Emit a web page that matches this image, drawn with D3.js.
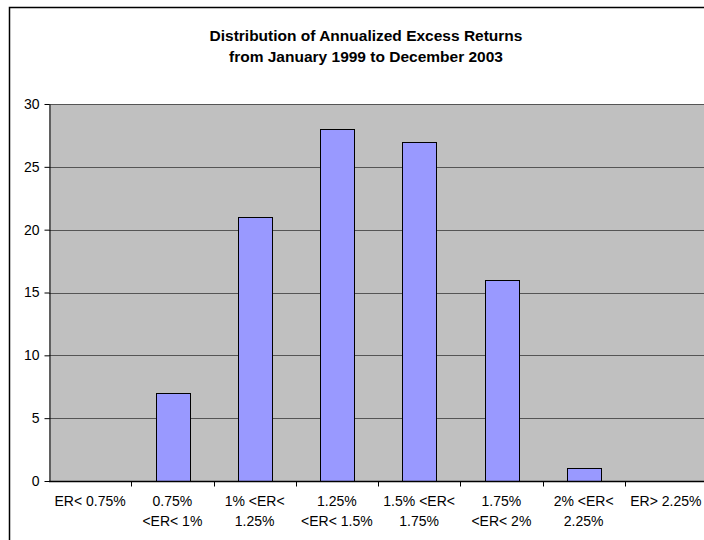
<!DOCTYPE html>
<html lang="en">
<head>
    <meta charset="UTF-8">
    <title>Distribution of Annualized Excess Returns</title>
    <script type="application/javascript" src="https://cdn.jsdelivr.net/npm/d3@7/dist/d3.min.js"></script>
    <style type="text/css">
        body { margin: 0; background: #fff; }
        svg { display: block; font-family: Arial, "Liberation Sans", sans-serif; }
        .grid line { stroke: #555; stroke-width: 1; }
        .bar { fill: #9999ff; stroke: #000; stroke-width: 1; }
    </style>
</head>
<body>
<svg width="704" height="540"></svg>
<script type="application/javascript">
    // bucket labels, two lines each
    var CATEGORIES = [
        ['ER< 0.75%'],
        ['0.75%', '<ER< 1%'],
        ['1% <ER<', '1.25%'],
        ['1.25%', '<ER< 1.5%'],
        ['1.5% <ER<', '1.75%'],
        ['1.75%', '<ER< 2%'],
        ['2% <ER<', '2.25%'],
        ['ER> 2.25%']
    ];
    var COUNTS = [0, 7, 21, 28, 27, 16, 1, 0];
    var Y_TICKS = [0, 5, 10, 15, 20, 25, 30];
    var TITLE = ['Distribution of Annualized Excess Returns', 'from January 1999 to December 2003'];

    var svg = d3.select('svg');
    var plot = {left: 49, top: 104, right: 707, bottom: 481};

    // chart frame (runs off the right and bottom of the image)
    svg.append('rect')
        .attr('x', 9.5).attr('y', 7.5)
        .attr('width', 715).attr('height', 560)
        .attr('fill', '#fff')
        .attr('stroke', '#000')
        .attr('stroke-width', 1.5);

    svg.append('g')
        .attr('text-anchor', 'middle')
        .attr('font-weight', 'bold')
        .attr('font-size', 15.5)
        .selectAll('text')
        .data(TITLE)
        .enter().append('text')
        .attr('x', 366)
        .attr('y', function(d, i) { return 41 + i * 21; })
        .text(function(d) { return d; });

    var keys = CATEGORIES.map(function(d, i) { return i; });

    var x = d3.scaleBand()
        .domain(keys)
        .range([plot.left, plot.right])
        .paddingInner(0.59)
        .paddingOuter(0.295);

    var xOuter = d3.scaleBand()
        .domain(keys)
        .range([plot.left, plot.right]);

    var y = d3.scaleLinear()
        .domain([0, 30])
        .range([plot.bottom, plot.top]);

    svg.append('rect')
        .attr('x', plot.left).attr('y', plot.top)
        .attr('width', plot.right - plot.left)
        .attr('height', plot.bottom - plot.top)
        .attr('fill', '#c0c0c0');

    svg.append('g')
        .attr('class', 'grid')
        .selectAll('line')
        .data(Y_TICKS.slice(1))
        .enter().append('line')
        .attr('x1', plot.left).attr('x2', plot.right)
        .attr('y1', function(d) { return Math.round(y(d)) + 0.5; })
        .attr('y2', function(d) { return Math.round(y(d)) + 0.5; });

    svg.append('g')
        .selectAll('rect')
        .data(COUNTS)
        .enter().append('rect')
        .attr('class', 'bar')
        .attr('x', function(d, i) { return Math.round(x(i)) + 0.5; })
        .attr('y', function(d) { return Math.round(y(d)) + 0.5; })
        .attr('width', Math.round(x.bandwidth()))
        .attr('height', function(d) { return Math.round(y(0)) - Math.round(y(d)); })
        .style('display', function(d) { return d > 0 ? null : 'none'; });

    // y axis
    var yAxis = svg.append('g')
        .attr('transform', 'translate(' + (plot.left + 0.5) + ',0)')
        .call(d3.axisLeft(y).tickValues(Y_TICKS).tickSize(5).tickPadding(5).tickSizeOuter(0));
    yAxis.select('.domain').attr('stroke', '#000');
    yAxis.selectAll('text').attr('font-size', 14).attr('font-family', 'Arial, "Liberation Sans", sans-serif').attr('fill', '#000');

    // x axis with ticks between categories
    var xAxis = svg.append('g')
        .attr('transform', 'translate(0,' + (Math.round(plot.bottom) + 0.5) + ')');
    xAxis.append('line')
        .attr('x1', plot.left).attr('x2', plot.right)
        .attr('stroke', '#000').attr('stroke-width', 1.5);
    xAxis.selectAll('.tick')
        .data(keys.slice(1))
        .enter().append('line')
        .attr('class', 'tick')
        .attr('x1', function(d) { return Math.round(xOuter(d)) + 0.5; })
        .attr('x2', function(d) { return Math.round(xOuter(d)) + 0.5; })
        .attr('y1', 0).attr('y2', 5)
        .attr('stroke', '#000');

    var labels = xAxis.selectAll('.label')
        .data(CATEGORIES)
        .enter().append('text')
        .attr('class', 'label')
        .attr('text-anchor', 'middle')
        .attr('font-size', 14)
        .attr('transform', function(d, i) {
            return 'translate(' + (xOuter(i) + xOuter.bandwidth() / 2) + ',0)';
        });
    labels.selectAll('tspan')
        .data(function(d) { return d; })
        .enter().append('tspan')
        .attr('x', 0)
        .attr('y', function(d, i) { return 24 + i * 20; })
        .text(function(d) { return d; });
</script>
</body>
</html>
